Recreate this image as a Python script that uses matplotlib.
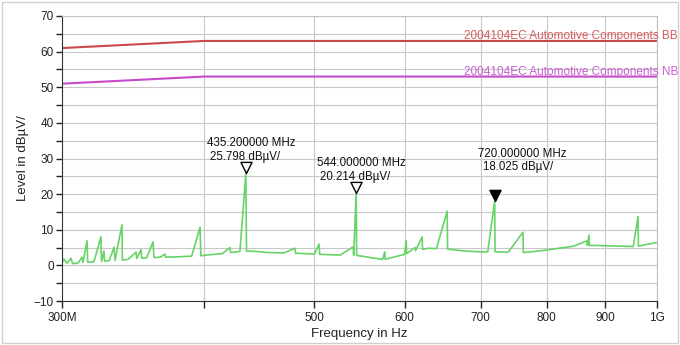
import matplotlib
matplotlib.use("Agg")
import matplotlib.pyplot as plt
from matplotlib.patches import Rectangle

plt.rcParams['font.family'] = ['Liberation Sans', 'DejaVu Sans']

# limit lines (MHz, dBuV)
limit_freq = [300, 400, 1000]
limit_bb = [61, 63, 63]
limit_nb = [51, 53, 53]
limit_bb_name = "2004104EC Automotive Components BB"
limit_nb_name = "2004104EC Automotive Components NB"

trace_freq = [300, 301, 303, 305.5, 306.5, 310, 312.4, 313, 315.6, 316, 320, 324.6, 325,
              326.6, 327, 330, 333.3, 334, 338.7, 339, 343, 348.4, 349, 352, 352.5, 356,
              360.7, 361.3, 366, 369.5, 370, 380, 390, 396.7, 397.3, 405, 415, 421.4, 422,
              430, 435.2, 435.8, 445, 455, 470, 480.7, 481.3, 490, 500, 504.7, 505.3, 515,
              527, 540.7, 541.3, 544, 544.6, 555, 565, 574, 576.5, 577, 590, 600, 602, 602.5,
              613, 613.5, 621.7, 622.3, 630, 640, 654, 654.6, 665, 680, 700, 710, 720, 720.6,
              740, 762.5, 763, 780, 800, 820, 845, 868, 868.5, 871.5, 872, 885, 900, 930,
              953, 962.5, 963, 980, 1000]
trace_level = [0.8, 1.8, 0.6, 2.0, 0.5, 0.7, 2.3, 0.8, 6.9, 0.9, 1.0, 8.0, 1.1,
               4.0, 1.2, 1.3, 5.1, 1.4, 11.4, 1.5, 1.7, 3.7, 1.9, 4.4, 2.0, 2.1,
               6.6, 2.2, 2.3, 3.2, 2.3, 2.4, 2.6, 10.7, 2.7, 3.0, 3.3, 5.0, 3.6,
               3.9, 25.798, 4.0, 3.9, 3.6, 3.5, 4.8, 3.4, 3.3, 3.2, 6.0, 3.1, 3.0,
               2.9, 5.2, 2.8, 20.214, 2.8, 2.4, 2.0, 1.7, 3.8, 1.7, 2.5, 3.1, 6.9, 3.3,
               5.0, 4.1, 8.0, 4.5, 4.8, 4.7, 15.2, 4.6, 4.3, 4.0, 3.8, 3.8, 18.025, 3.8,
               3.7, 9.3, 3.6, 3.9, 4.3, 4.8, 5.4, 6.9, 5.6, 8.5, 5.6, 5.6, 5.5, 5.4,
               5.3, 13.7, 5.4, 5.9, 6.4]

# markers
marker_freq = [435.2, 544.0, 720.0]
marker_level = [25.798, 20.214, 18.025]
marker_filled = [False, False, True]

x_ticks = [300, 400, 500, 600, 700, 800, 900, 1000]
x_ticklabels = ["300M", "", "500", "600", "700", "800", "900", "1G"]

fig = plt.figure(figsize=(6.8, 3.45), dpi=100)
ax = fig.add_axes([62 / 680, 1 - 301 / 345, 595 / 680, 285 / 345])

ax.set_xscale('log')
ax.set_xlim(300, 1000)
ax.set_ylim(-10, 70)

ax.set_xticks(x_ticks)
ax.set_xticklabels(x_ticklabels)
ax.xaxis.set_minor_locator(plt.NullLocator())
ax.set_yticks(range(-10, 71, 10))
ax.set_yticks(range(-5, 70, 10), minor=True)
ax.tick_params(axis='both', which='both', direction='out', length=4, width=1,
               labelsize=8.5, colors='#222222', pad=2)
ax.tick_params(axis='x', length=5, pad=3)

ax.grid(True, which='both', color='#c8c8c8', lw=0.8)
ax.set_axisbelow(True)
for side in ('top', 'right'):
    ax.spines[side].set_color('#c0c0c0')
for side in ('left', 'bottom'):
    ax.spines[side].set_color('#333333')

# limit lines
ax.plot(limit_freq, limit_bb, color='#cc4848', lw=1.5)
ax.plot(limit_freq, limit_nb, color='#c44cc8', lw=1.5)
ax.annotate(limit_bb_name, xy=(limit_freq[-1], limit_bb[-1]), xytext=(21, 2),
            textcoords='offset pixels', ha='right', va='baseline',
            color='#d65c5c', fontsize=8.5, annotation_clip=False)
ax.annotate(limit_nb_name, xy=(limit_freq[-1], limit_nb[-1]), xytext=(21, 2),
            textcoords='offset pixels', ha='right', va='baseline',
            color='#c85ed0', fontsize=8.5, annotation_clip=False)

# trace
ax.plot(trace_freq, trace_level, color='#66d466', lw=1.2)

# marker triangles with apex on the peak
tri = [(0, 0), (-0.5, 1), (0.5, 1), (0, 0)]
for f, lv, filled in zip(marker_freq, marker_level, marker_filled):
    ax.plot([f], [lv], marker=tri, markersize=16, linestyle='none',
            markerfacecolor='black' if filled else 'white',
            markeredgecolor='black', markeredgewidth=1, zorder=5)
    if filled:
        off1, off2 = (-17, 47), (-12, 34)
    else:
        off1, off2 = (-39, 30), (-36, 16.5)
    ax.annotate(f"{f:.6f} MHz", xy=(f, lv), xytext=off1, textcoords='offset pixels',
                ha='left', va='center', fontsize=8.3, color='#111111')
    ax.annotate(f"{lv:.3f} dBµV/", xy=(f, lv), xytext=off2, textcoords='offset pixels',
                ha='left', va='center', fontsize=8.3, color='#111111')

ax.set_xlabel("Frequency in Hz", fontsize=9.5, color='#222222', labelpad=3)
ax.set_ylabel("Level in dBµV/", fontsize=9.5, color='#222222', labelpad=3)

# light frame around the whole picture
fig.patches.append(Rectangle((0.003, 0.006), 0.994, 0.988, transform=fig.transFigure,
                             fill=False, edgecolor='#d0d0d0', lw=1))

fig.savefig("out.png", dpi=100)
